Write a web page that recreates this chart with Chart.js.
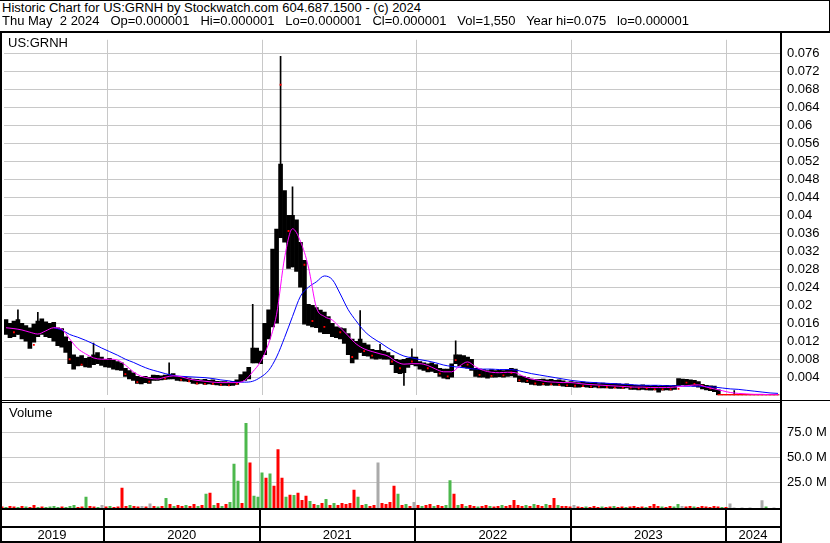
<!DOCTYPE html>
<html>
<head>
<meta charset="utf-8">
<title>US:GRNH historic chart</title>
<script src="https://cdn.jsdelivr.net/npm/chart.js@4.4.1/dist/chart.umd.min.js"></script>
<style>
  body { margin: 0; background: #fff; }
  #wrap {
    position: relative; width: 830px; height: 543px; overflow: hidden; background: #fff;
    font-family: 'Liberation Sans', Arial, sans-serif; font-size: 13px; color: #000;
  }
  .txt { position: absolute; white-space: pre; line-height: 14px; z-index: 6; }
  .rule { position: absolute; background: #000; z-index: 5; }
  canvas { position: absolute; left: 0; }
</style>
</head>
<body>
<div id="wrap">
  <div class="txt" style="left:2px;top:1px">Historic Chart for US:GRNH by Stockwatch.com 604.687.1500 - (c) 2024</div>
  <div class="txt" style="left:2px;top:14px">Thu May  2 2024   Op=0.000001   Hi=0.000001   Lo=0.000001   Cl=0.000001   Vol=1,550   Year hi=0.075   lo=0.000001</div>
  <div class="txt" style="left:8px;top:36px">US:GRNH</div>
  <div class="txt" style="left:9px;top:406px">Volume</div>

  <canvas id="priceChart" width="830" height="385" style="top:25px"></canvas>
  <canvas id="volChart" width="830" height="150" style="top:393px"></canvas>

  <!-- frame rules -->
  <div class="rule" style="left:0;top:0;width:830px;height:1px"></div>
  <div class="rule" style="left:829px;top:0;width:1px;height:33px"></div>
  <div class="rule" style="left:0;top:31px;width:830px;height:2px"></div>
  <div class="rule" style="left:0;top:31px;width:2px;height:512px"></div>
  <div class="rule" style="left:780px;top:31px;width:2px;height:512px"></div>
  <div class="rule" style="left:0;top:400px;width:830px;height:1px"></div>
  <div class="rule" style="left:0;top:402px;width:782px;height:1px"></div>
  <div class="rule" style="left:0;top:508px;width:782px;height:2px"></div>
  <div class="rule" style="left:0;top:526px;width:782px;height:2px"></div>
  <div class="rule" style="left:0;top:541px;width:782px;height:2px"></div>
</div>

<script>
// time axis in decimal years, one bar per ~9.4 days (May 2019 - May 2024)
const START = 2019.331;
const BAR_YEARS = 0.02572;
const NBARS = 195;
const END = START + NBARS * BAR_YEARS;
const yearStarts = [2020, 2021, 2022, 2023, 2024];
const yearLabels = ['2019', '2020', '2021', '2022', '2023', '2024'];

const priceTicks = [0.004, 0.008, 0.012, 0.016, 0.02, 0.024, 0.028, 0.032, 0.036, 0.04,
                    0.044, 0.048, 0.052, 0.056, 0.06, 0.064, 0.068, 0.072, 0.076];
const priceTickLabels = ['0.004', '0.008', '0.012', '0.016', '0.02', '0.024', '0.028', '0.032', '0.036', '0.04',
                         '0.044', '0.048', '0.052', '0.056', '0.06', '0.064', '0.068', '0.072', '0.076'];
const volTicks = [25, 50, 75];
const volTickLabels = ['25.0 M', '50.0 M', '75.0 M'];

// price bars (high / low of the dense trading band per period)
const highs = [
  .0168,.0160,.0165,.0168,.0160,.0155,.0150,.0158,.0165,.0170,
  .0163,.0160,.0162,.0150,.0148,.0130,.0120,.0090,.0085,.0088,
  .0082,.0085,.0090,.0095,.0085,.0080,.0082,.0078,.0075,.0072,
  .0060,.0055,.0050,.0042,.0040,.0042,.0040,.0045,.0044,.0043,
  .0045,.0046,.0048,.0042,.0041,.0040,.0038,.0036,.0035,.0034,
  .0035,.0033,.0034,.0031,.0030,.0030,.0029,.0031,.0034,.0046,
  .0052,.0062,.0105,.0105,.0098,.0160,.0190,.0325,.0369,.0514,
  .0455,.0400,.0400,.0390,.0340,.0300,.0202,.0200,.0195,.0189,
  .0185,.0175,.0160,.0152,.0150,.0148,.0137,.0125,.0120,.0125,
  .0116,.0112,.0102,.0100,.0100,.0098,.0095,.0088,.0080,.0078,
  .0080,.0082,.0085,.0085,.0075,.0072,.0070,.0072,.0068,.0060,
  .0058,.0058,.0070,.0090,.0090,.0088,.0085,.0080,.0060,.0058,
  .0057,.0055,.0057,.0055,.0056,.0055,.0057,.0060,.0058,.0043,
  .0042,.0040,.0036,.0035,.0035,.0036,.0034,.0035,.0033,.0034,
  .0032,.0029,.0030,.0029,.0028,.0029,.0028,.0027,.0028,.0026,
  .0027,.0026,.0025,.0026,.0025,.0024,.0025,.0023,.0022,.0022,
  .0023,.0022,.0021,.0022,.0020,.0021,.0022,.0021,.0022,.0037,
  .0036,.0035,.0034,.0033,.0030,.0024,.0022,.0021,.0020,.0012,
  .000001,.000001,.000001,.000001,.000001,.000001,.000001,.000001,.000001,.000001,
  .000001,.000001,.000001,.000001,.000001
];
const lows = [
  .0135,.0128,.0130,.0135,.0125,.0120,.0104,.0118,.0130,.0135,
  .0130,.0128,.0120,.0110,.0107,.0095,.0070,.0058,.0065,.0066,
  .0063,.0062,.0068,.0070,.0066,.0063,.0062,.0058,.0056,.0055,
  .0042,.0036,.0033,.0026,.0025,.0028,.0026,.0033,.0033,.0034,
  .0035,.0036,.0036,.0033,.0032,.0031,.0030,.0026,.0025,.0026,
  .0024,.0025,.0024,.0023,.0022,.0022,.0021,.0022,.0024,.0030,
  .0033,.0036,.0072,.0072,.0070,.0090,.0125,.0152,.0160,.0350,
  .0340,.0282,.0285,.0275,.0240,.0158,.0155,.0152,.0150,.0140,
  .0137,.0137,.0130,.0128,.0125,.0115,.0090,.0072,.0080,.0095,
  .0088,.0087,.0082,.0080,.0082,.0080,.0080,.0068,.0050,.0048,
  .0050,.0062,.0068,.0065,.0058,.0055,.0052,.0053,.0050,.0042,
  .0038,.0036,.0040,.0070,.0065,.0062,.0060,.0055,.0042,.0040,
  .0040,.0038,.0040,.0040,.0041,.0040,.0042,.0043,.0040,.0030,
  .0029,.0028,.0024,.0023,.0022,.0023,.0022,.0023,.0022,.0022,
  .0020,.0019,.0019,.0018,.0018,.0019,.0018,.0017,.0018,.0016,
  .0016,.0016,.0015,.0016,.0015,.0015,.0016,.0013,.0013,.0012,
  .0013,.0012,.0011,.0012,.0007,.0011,.0012,.0011,.0013,.0022,
  .0023,.0022,.0022,.0020,.0018,.0014,.0012,.0010,.0008,.000001,
  .000001,.000001,.000001,.000001,.000001,.000001,.000001,.000001,.000001,.000001,
  .000001,.000001,.000001,.000001,.000001
];
// single-day spikes drawn as thin wicks
const spikeIdx = [3, 8, 22, 41, 62, 69, 72, 89, 94, 100, 102, 113, 183];
const spikeLo = [.0135, .0130, .0068, .0036, .0072, .0350, .0285, .0095, .0082, .0022, .0068, .0070, .000001];
const spikeHi = [.0190, .0184, .0116, .0072, .0202, .0753, .0463, .0188, .0113, .0080, .0103, .0121, .0010];

// red close ticks (null = not shown)
const closes = [
  null,null,.0140,null,null,null,null,.0112,null,null,
  null,null,null,null,null,null,.0080,null,null,.0068,
  null,null,null,null,null,null,null,null,null,null,
  .0047,null,null,.0029,null,null,.0030,null,null,null,
  .0037,null,null,null,.0034,null,.0031,null,.0026,null,
  .0025,null,.0025,null,.0023,null,.0022,null,.0025,null,
  null,null,null,null,null,null,null,null,null,.0690,
  null,.0365,null,null,null,.0290,null,.0165,null,null,
  .0152,null,null,null,.0140,null,null,.0085,null,null,
  .0098,null,.0088,null,null,null,null,.0075,null,.0060,
  null,null,.0075,null,null,null,.0060,null,null,.0048,
  null,.0042,null,.0078,null,null,.0068,null,null,.0045,
  null,null,.0043,null,null,.0044,null,.0050,null,.0033,
  null,.0032,null,.0026,null,.0025,null,.0024,null,.0023,
  null,.0022,null,.0021,null,.0020,null,.0019,null,.0019,
  null,.0018,null,.0017,null,.0017,null,.0017,null,.0015,
  null,.0015,null,.0013,null,.0013,null,.0013,null,.0014,
  null,.0028,null,.0025,null,.0021,null,.0015,null,.000001,
  .000001,.000001,.000001,.000001,.000001,.000001,.000001,.000001,.000001,.000001,
  .000001,.000001,.000001,.000001,.000001
];

// moving averages, one value every 2 periods
const maShort = [
  .0150,.0148,.0145,.0140,.0136,.0143,.0150,.0147,.0125,.0104,
  .0092,.0083,.0080,.0080,.0078,.0067,.0052,.0042,.0038,.0036,
  .0040,.0043,.0041,.0036,.0033,.0031,.0029,.0028,.0028,.0028,
  .0033,.0052,.0075,.0115,.0180,.0305,.0370,.0342,.0285,.0195,
  .0175,.0167,.0150,.0132,.0114,.0103,.0097,.0092,.0087,.0075,
  .0069,.0070,.0070,.0066,.0058,.0052,.0052,.0065,.0074,.0063,
  .0055,.0051,.0050,.0051,.0050,.0042,.0036,.0033,.0030,.0029,
  .0028,.0028,.0026,.0024,.0023,.0022,.0021,.0020,.0019,.0018,
  .0018,.0017,.0017,.0017,.0018,.0020,.0022,.0023,.0018,.0014,
  .0010,.0006,.0004,.0003,.0002,.0002,.0001,.0001
];
const maLong = [
  null,null,null,null,null,null,.0150,.0145,.0135,.0129,
  .0122,.0114,.0105,.0097,.0089,.0080,.0073,.0065,.0058,.0053,
  .0048,.0044,.0042,.0041,.0040,.0039,.0037,.0034,.0032,.0029,
  .0029,.0031,.0040,.0055,.0085,.0128,.0175,.0220,.0240,.0252,
  .0265,.0257,.0225,.0190,.0165,.0143,.0128,.0117,.0105,.0095,
  .0087,.0083,.0079,.0076,.0072,.0067,.0064,.0062,.0060,.0058,
  .0058,.0058,.0057,.0057,.0056,.0052,.0048,.0045,.0042,.0039,
  .0036,.0033,.0031,.0029,.0028,.0027,.0026,.0025,.0024,.0023,
  .0022,.0022,.0022,.0021,.0021,.0020,.0020,.0020,.0019,.0018,
  .0016,.0014,.0013,.0011,.0009,.0007,.0005,.0004
];

// volume in millions; direction 1 = up, -1 = down, 0 = unchanged
const volumes = [
  1.5,1,2,1.5,1,2,1.5,1,3,1,
  1.5,1,1.5,2,1,1.5,1,2,3,1,
  1.5,11,2,1.5,1,3,1.5,2,1,1.5,
  20,2,3,2,1.5,2,1.5,4.5,2,1.5,
  2,10,4,2,3,2,3,2,4,2,
  3,14,15,3,5,2,4,6,43.6,27,
  5,84,45,12,11,35,30,34,22,58,
  30,11,13,12.8,15,8,12,7,4,3,
  5,9,3,5,3,5,4,5,18,11,
  3,4,2,3,45,5,4,6,22,14,
  3,4,2,6,3,2,3,4,2,3,
  2,3,27.5,14,3,4,2,3,2,1.5,
  2,3,2,1.5,2,3,2,3,8,3,
  2,3,2,4,3,2,4,3,10,3,
  2,2,1.5,3,1.5,1,1.5,1,2,1,
  1.5,1,1.5,2,1,1.5,1,1.5,2,1,
  1.5,1,2,4,2,1.5,1,2,1.5,4,
  2,1.5,2,1.5,1,2,1.5,1,2,1.5,
  1,1,4.5,0.5,0,0.5,0,0.5,0,0,
  7.7,1.5,0,0.5,0
];
const volDir = [
  -1,1,-1,-1,1,-1,1,-1,-1,1,
  -1,1,1,1,1,-1,1,1,1,-1,
  -1,1,-1,-1,1,0,-1,1,-1,-1,
  -1,-1,1,-1,-1,0,-1,0,-1,1,
  -1,1,-1,1,-1,-1,1,-1,-1,1,
  -1,1,-1,1,-1,1,-1,1,1,1,
  -1,1,-1,1,1,1,-1,1,-1,-1,
  -1,1,-1,1,-1,-1,-1,1,-1,1,
  -1,1,-1,1,-1,-1,-1,-1,-1,1,
  -1,1,-1,-1,0,-1,-1,-1,-1,1,
  -1,1,-1,0,-1,1,-1,-1,1,-1,
  -1,1,1,-1,1,-1,1,-1,-1,1,
  -1,-1,1,-1,-1,1,-1,-1,-1,-1,
  -1,1,-1,1,-1,-1,1,-1,-1,1,
  -1,-1,-1,0,-1,-1,1,-1,-1,-1,
  1,-1,-1,1,-1,-1,1,-1,-1,-1,
  -1,1,-1,-1,-1,1,-1,-1,1,1,
  0,-1,-1,1,-1,-1,-1,-1,-1,-1,
  1,-1,0,0,0,0,0,0,0,0,
  0,1,0,0,0
];

const dirColors = { '1': '#4cb84c', '-1': '#ff0000', '0': '#aaaaaa' };
const FONT = "'Liberation Sans', Arial, sans-serif";

Chart.defaults.font.family = FONT;
Chart.defaults.font.size = 13;
Chart.defaults.color = '#000';

function barX(i) {
  return START + (i + 0.5) * BAR_YEARS;
}

const priceBars = highs.map((h, i) => ({ x: barX(i), y: [lows[i], h] }));
const spikeBars = spikeIdx.map((idx, k) => ({ x: barX(idx), y: [spikeLo[k], spikeHi[k]] }));
const closePts = closes.map((c, i) => ({ x: barX(i), y: c }));
const shortPts = maShort.map((v, j) => ({ x: barX(2 * j), y: v }));
const longPts = maLong.map((v, j) => ({ x: barX(2 * j), y: v }));
const volBars = volumes.map((v, i) => ({ x: barX(i), y: v }));

function timeAxis() {
  return {
    type: 'linear',
    min: START,
    max: END,
    offset: false,
    afterBuildTicks: axis => { axis.ticks = yearStarts.map(v => ({ value: v })); },
    ticks: { display: false },
    grid: { color: '#c8c8c8', lineWidth: 1, drawTicks: false, offset: false },
    border: { display: false }
  };
}

function rightAxis(min, max, tickValues, tickLabels) {
  return {
    position: 'right',
    min: min,
    max: max,
    afterBuildTicks: axis => { axis.ticks = tickValues.map(v => ({ value: v })); },
    afterFit: axis => { axis.width = 50; },
    ticks: {
      padding: 7,
      crossAlign: 'near',
      callback: (value, index) => tickLabels[index]
    },
    grid: { color: '#c8c8c8', lineWidth: 1, drawTicks: false },
    border: { display: false }
  };
}

new Chart(document.getElementById('priceChart'), {
  type: 'bar',
  data: {
    datasets: [
      {
        type: 'line',
        data: shortPts,
        borderColor: '#ff00ff',
        borderWidth: 1,
        pointRadius: 0,
        cubicInterpolationMode: 'monotone',
        order: 1
      },
      {
        type: 'line',
        data: longPts,
        borderColor: '#0000ff',
        borderWidth: 1,
        pointRadius: 0,
        cubicInterpolationMode: 'monotone',
        order: 1
      },
      {
        type: 'line',
        data: closePts,
        borderColor: '#ff0000',
        borderWidth: 2.5,
        pointStyle: 'rect',
        pointRadius: 1.3,
        pointBackgroundColor: '#ff0000',
        pointBorderWidth: 0,
        spanGaps: false,
        order: 2
      },
      {
        type: 'bar',
        data: spikeBars,
        backgroundColor: '#000',
        barThickness: 1,
        grouped: false,
        order: 3
      },
      {
        type: 'bar',
        data: priceBars,
        backgroundColor: '#000',
        barPercentage: 1,
        categoryPercentage: 1,
        grouped: false,
        order: 4
      }
    ]
  },
  options: {
    responsive: false,
    animation: false,
    devicePixelRatio: 1,
    layout: { padding: { top: 10, bottom: 10, left: 0, right: 0 } },
    plugins: { legend: { display: false }, tooltip: { enabled: false } },
    scales: {
      x: timeAxis(),
      y: rightAxis(0, 0.079, priceTicks, priceTickLabels)
    }
  }
});

// year strip under the volume panel
const yearStrip = {
  id: 'yearStrip',
  afterDraw(chart) {
    const { ctx, chartArea } = chart;
    const x = chart.scales.x;
    const top = chartArea.bottom;
    ctx.save();
    ctx.fillStyle = '#000';
    yearStarts.forEach(v => {
      const px = Math.round(x.getPixelForValue(v));
      ctx.fillRect(px - 1, top, 2, 35);
    });
    ctx.font = '13px ' + FONT;
    ctx.textAlign = 'center';
    const bounds = [x.min, ...yearStarts, x.max];
    yearLabels.forEach((label, k) => {
      const mid = (x.getPixelForValue(bounds[k]) + x.getPixelForValue(bounds[k + 1])) / 2;
      ctx.fillText(label, mid, top + 31);
    });
    ctx.restore();
  }
};

new Chart(document.getElementById('volChart'), {
  type: 'bar',
  data: {
    datasets: [{
      data: volBars,
      backgroundColor: volDir.map(d => dirColors[String(d)]),
      barPercentage: 0.75,
      categoryPercentage: 1
    }]
  },
  options: {
    responsive: false,
    animation: false,
    devicePixelRatio: 1,
    layout: { padding: { top: 10, bottom: 35, left: 0, right: 0 } },
    plugins: { legend: { display: false }, tooltip: { enabled: false } },
    scales: {
      x: timeAxis(),
      y: rightAxis(0, 99, volTicks, volTickLabels)
    }
  },
  plugins: [yearStrip]
});
</script>
</body>
</html>
